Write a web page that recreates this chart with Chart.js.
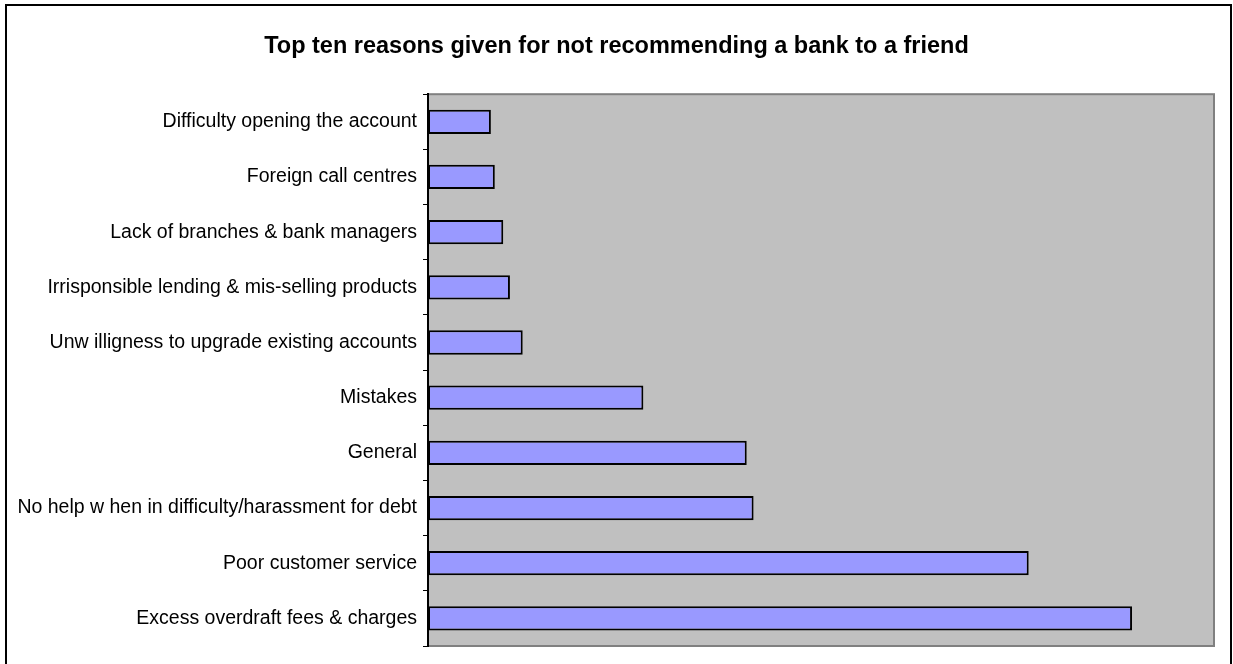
<!DOCTYPE html>
<html>
<head>
<meta charset="utf-8">
<script src="https://cdn.jsdelivr.net/npm/chart.js@4"></script>
<style>
    body { margin: 0; background: #fff; }
    #frame { position: absolute; left: 5px; top: 4px; width: 1227px; height: 680px; border: 2px solid #000; box-sizing: border-box; }
    #wrap { position: absolute; left: 0; top: 0; width: 1233px; height: 664px; }
</style>
</head>
<body>
<div id="frame"></div>
<div id="wrap"><canvas id="chart"></canvas></div>
<script>
const chartTitle = 'Top ten reasons given for not recommending a bank to a friend';

const reasons = [
    'Difficulty opening the account',
    'Foreign call centres',
    'Lack of branches & bank managers',
    'Irrisponsible lending & mis-selling products',
    'Unw illigness to upgrade existing accounts',
    'Mistakes',
    'General',
    'No help w hen in difficulty/harassment for debt',
    'Poor customer service',
    'Excess overdraft fees & charges'
];

const mentions = [3.2, 3.4, 3.83, 4.17, 4.82, 10.96, 16.22, 16.57, 30.57, 35.83];

const axisMax = 40;

// grey plot area with a darker edge, like the Excel original
const plotBackground = {
    id: 'plotBackground',
    beforeDraw(chart) {
        const { ctx, chartArea: a } = chart;
        ctx.save();
        ctx.fillStyle = '#C0C0C0';
        ctx.fillRect(a.left, a.top, a.right - a.left, a.bottom - a.top);
        ctx.strokeStyle = '#808080';
        ctx.lineWidth = 2;
        ctx.strokeRect(a.left, a.top, a.right - a.left, a.bottom - a.top);
        ctx.restore();
    }
};

const ctx = document.getElementById('chart').getContext('2d');
new Chart(ctx, {
    type: 'bar',
    data: {
        labels: reasons,
        datasets: [{
            data: mentions,
            backgroundColor: '#9999FF',
            borderColor: '#000000',
            borderWidth: 2,
            borderSkipped: false,
            categoryPercentage: 0.44,
            barPercentage: 1.0
        }]
    },
    options: {
        indexAxis: 'y',
        responsive: true,
        maintainAspectRatio: false,
        animation: false,
        layout: { padding: { left: 0, right: 0, top: 0, bottom: 18 } },
        plugins: {
            legend: { display: false },
            tooltip: { enabled: false },
            title: {
                display: true,
                text: chartTitle,
                color: '#000',
                font: { family: 'Arial, "Liberation Sans"', size: 23.5, weight: 'bold' },
                padding: { top: 32, bottom: 34 }
            }
        },
        scales: {
            x: {
                display: false,
                min: 0,
                max: axisMax
            },
            y: {
                afterFit(scale) { scale.width = 428; },
                grid: {
                    offset: true,
                    drawOnChartArea: false,
                    color: '#000',
                    tickLength: 5,
                    tickColor: '#000'
                },
                border: { color: '#000', width: 2 },
                ticks: {
                    color: '#000',
                    padding: 6,
                    autoSkip: false,
                    font: { family: 'Arial, "Liberation Sans"', size: 19.5 }
                }
            },
            // empty strip on the right so the title stays centred on the whole frame
            rightGap: {
                type: 'linear',
                axis: 'y',
                position: 'right',
                afterFit(scale) { scale.width = 19; },
                grid: { display: false },
                border: { display: false },
                ticks: { display: false }
            }
        }
    },
    plugins: [plotBackground]
});
</script>
</body>
</html>
